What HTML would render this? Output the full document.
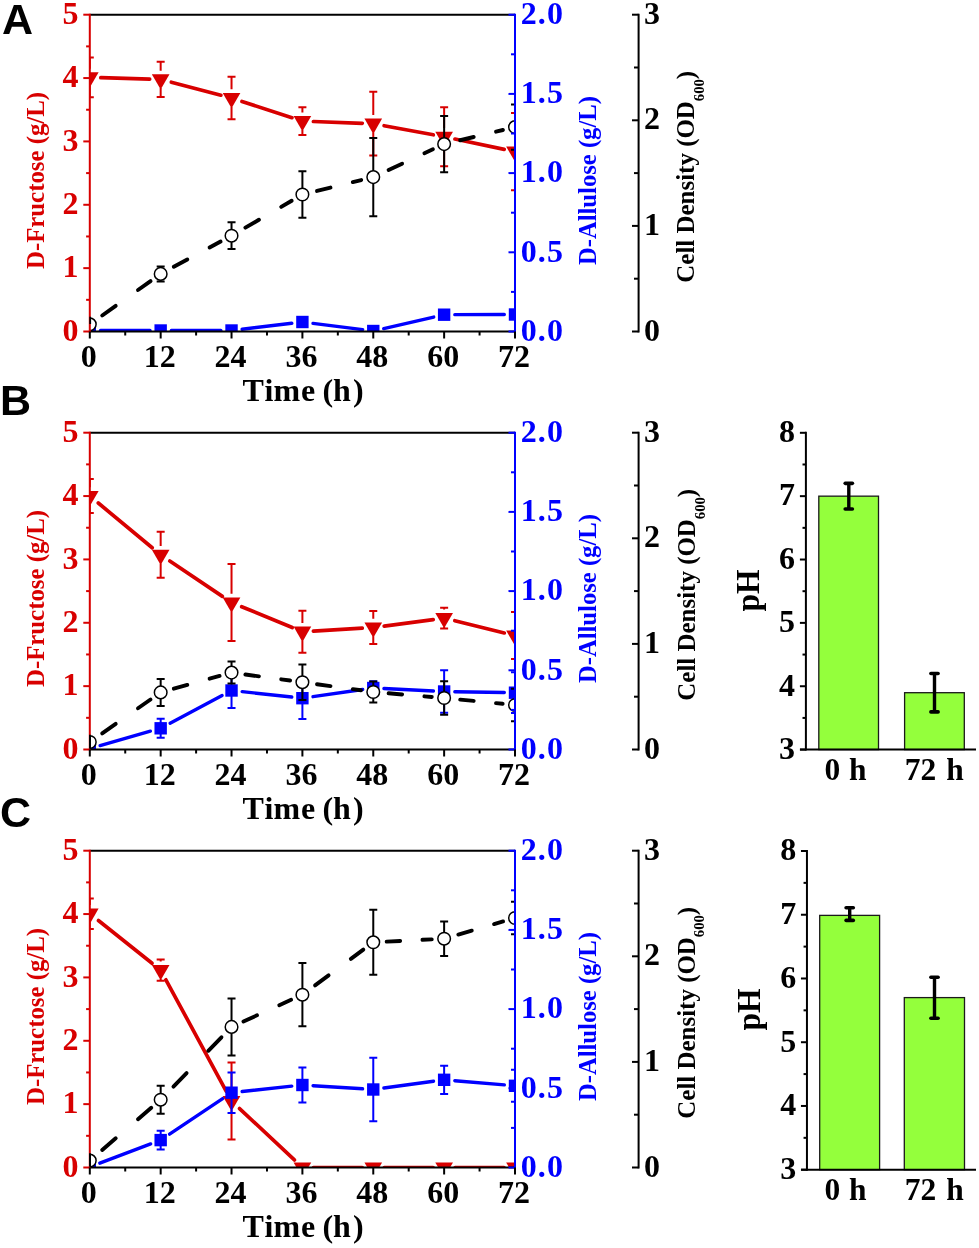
<!DOCTYPE html>
<html><head><meta charset="utf-8"><style>
html,body{margin:0;padding:0;background:#fff;width:979px;height:1248px;overflow:hidden}
svg{display:block;will-change:transform}

</style></head><body>
<svg width="979" height="1248" viewBox="0 0 979 1248">
<rect width="979" height="1248" fill="#fff"/>
<defs>
<clipPath id="c0"><rect x="89.8" y="14.7" width="425.2" height="316.8"/></clipPath>
<clipPath id="c1"><rect x="89.8" y="432.7" width="425.2" height="316.8"/></clipPath>
<clipPath id="c2"><rect x="89.8" y="850.7" width="425.2" height="316.8"/></clipPath>
</defs>
<g font-family="'Liberation Sans', sans-serif" font-weight="bold" font-size="43">
<text x="2.00" y="34.00" fill="#000000" font-size="43" text-anchor="start">A</text>
<text x="0.00" y="414.90" fill="#000000" font-size="43" text-anchor="start">B</text>
<text x="0.00" y="826.60" fill="#000000" font-size="43" text-anchor="start">C</text>
</g>
<g font-family="'Liberation Serif', serif" font-weight="bold">
<g transform="translate(0,0)">
<g clip-path="url(#c0)">
<line x1="100.80" y1="77.71" x2="149.67" y2="79.09" stroke="#d80000" stroke-width="3.7" stroke-linecap="round"/>
<line x1="171.31" y1="82.19" x2="220.89" y2="95.21" stroke="#d80000" stroke-width="3.7" stroke-linecap="round"/>
<line x1="241.99" y1="101.41" x2="291.94" y2="117.69" stroke="#d80000" stroke-width="3.7" stroke-linecap="round"/>
<line x1="313.39" y1="121.50" x2="362.27" y2="123.30" stroke="#d80000" stroke-width="3.7" stroke-linecap="round"/>
<line x1="384.08" y1="125.70" x2="433.32" y2="134.80" stroke="#d80000" stroke-width="3.7" stroke-linecap="round"/>
<line x1="454.90" y1="139.05" x2="504.23" y2="149.35" stroke="#d80000" stroke-width="3.7" stroke-linecap="round"/>
<line x1="89.80" y1="57.50" x2="89.80" y2="68.70" stroke="#d80000" stroke-width="2"/>
<line x1="89.80" y1="86.10" x2="89.80" y2="97.30" stroke="#d80000" stroke-width="2"/>
<line x1="85.80" y1="57.50" x2="93.80" y2="57.50" stroke="#d80000" stroke-width="2"/>
<line x1="85.80" y1="97.30" x2="93.80" y2="97.30" stroke="#d80000" stroke-width="2"/>
<line x1="160.67" y1="61.70" x2="160.67" y2="70.70" stroke="#d80000" stroke-width="2"/>
<line x1="160.67" y1="88.10" x2="160.67" y2="97.10" stroke="#d80000" stroke-width="2"/>
<line x1="156.67" y1="61.70" x2="164.67" y2="61.70" stroke="#d80000" stroke-width="2"/>
<line x1="156.67" y1="97.10" x2="164.67" y2="97.10" stroke="#d80000" stroke-width="2"/>
<line x1="231.53" y1="76.80" x2="231.53" y2="89.30" stroke="#d80000" stroke-width="2"/>
<line x1="231.53" y1="106.70" x2="231.53" y2="119.20" stroke="#d80000" stroke-width="2"/>
<line x1="227.53" y1="76.80" x2="235.53" y2="76.80" stroke="#d80000" stroke-width="2"/>
<line x1="227.53" y1="119.20" x2="235.53" y2="119.20" stroke="#d80000" stroke-width="2"/>
<line x1="302.40" y1="107.30" x2="302.40" y2="112.40" stroke="#d80000" stroke-width="2"/>
<line x1="302.40" y1="129.80" x2="302.40" y2="134.90" stroke="#d80000" stroke-width="2"/>
<line x1="298.40" y1="107.30" x2="306.40" y2="107.30" stroke="#d80000" stroke-width="2"/>
<line x1="298.40" y1="134.90" x2="306.40" y2="134.90" stroke="#d80000" stroke-width="2"/>
<line x1="373.27" y1="91.80" x2="373.27" y2="115.00" stroke="#d80000" stroke-width="2"/>
<line x1="373.27" y1="132.40" x2="373.27" y2="155.60" stroke="#d80000" stroke-width="2"/>
<line x1="369.27" y1="91.80" x2="377.27" y2="91.80" stroke="#d80000" stroke-width="2"/>
<line x1="369.27" y1="155.60" x2="377.27" y2="155.60" stroke="#d80000" stroke-width="2"/>
<line x1="444.13" y1="107.30" x2="444.13" y2="128.10" stroke="#d80000" stroke-width="2"/>
<line x1="444.13" y1="145.50" x2="444.13" y2="166.30" stroke="#d80000" stroke-width="2"/>
<line x1="440.13" y1="107.30" x2="448.13" y2="107.30" stroke="#d80000" stroke-width="2"/>
<line x1="440.13" y1="166.30" x2="448.13" y2="166.30" stroke="#d80000" stroke-width="2"/>
<line x1="515.00" y1="112.90" x2="515.00" y2="142.90" stroke="#d80000" stroke-width="2"/>
<line x1="515.00" y1="160.30" x2="515.00" y2="190.30" stroke="#d80000" stroke-width="2"/>
<line x1="511.00" y1="112.90" x2="519.00" y2="112.90" stroke="#d80000" stroke-width="2"/>
<line x1="511.00" y1="190.30" x2="519.00" y2="190.30" stroke="#d80000" stroke-width="2"/>
<polygon points="80.97,72.30 98.63,72.30 89.80,87.60" fill="#d80000"/>
<polygon points="151.83,74.30 169.50,74.30 160.67,89.60" fill="#d80000"/>
<polygon points="222.70,92.90 240.37,92.90 231.53,108.20" fill="#d80000"/>
<polygon points="293.57,116.00 311.23,116.00 302.40,131.30" fill="#d80000"/>
<polygon points="364.43,118.60 382.10,118.60 373.27,133.90" fill="#d80000"/>
<polygon points="435.30,131.70 452.97,131.70 444.13,147.00" fill="#d80000"/>
<polygon points="506.17,146.50 523.83,146.50 515.00,161.80" fill="#d80000"/>
<line x1="100.50" y1="330.50" x2="149.97" y2="330.50" stroke="#0000ff" stroke-width="3.4" stroke-linecap="round"/>
<line x1="171.37" y1="330.50" x2="220.83" y2="330.50" stroke="#0000ff" stroke-width="3.4" stroke-linecap="round"/>
<line x1="242.16" y1="329.23" x2="291.78" y2="323.27" stroke="#0000ff" stroke-width="3.4" stroke-linecap="round"/>
<line x1="313.01" y1="323.35" x2="362.65" y2="329.65" stroke="#0000ff" stroke-width="3.4" stroke-linecap="round"/>
<line x1="383.69" y1="328.60" x2="433.71" y2="317.10" stroke="#0000ff" stroke-width="3.4" stroke-linecap="round"/>
<line x1="454.83" y1="314.67" x2="504.30" y2="314.53" stroke="#0000ff" stroke-width="3.4" stroke-linecap="round"/>
<rect x="83.60" y="324.30" width="12.4" height="12.4" fill="#0000ff"/>
<rect x="154.47" y="324.30" width="12.4" height="12.4" fill="#0000ff"/>
<rect x="225.33" y="324.30" width="12.4" height="12.4" fill="#0000ff"/>
<rect x="296.20" y="315.80" width="12.4" height="12.4" fill="#0000ff"/>
<rect x="367.07" y="324.80" width="12.4" height="12.4" fill="#0000ff"/>
<rect x="437.93" y="308.50" width="12.4" height="12.4" fill="#0000ff"/>
<rect x="508.80" y="308.30" width="12.4" height="12.4" fill="#0000ff"/>
<line x1="102.20" y1="315.48" x2="115.70" y2="305.88" stroke="#000000" stroke-width="3.9" stroke-linecap="round"/>
<line x1="138.00" y1="290.02" x2="150.56" y2="281.09" stroke="#000000" stroke-width="3.9" stroke-linecap="round"/>
<line x1="173.80" y1="266.82" x2="187.30" y2="259.54" stroke="#000000" stroke-width="3.9" stroke-linecap="round"/>
<line x1="209.60" y1="247.52" x2="220.62" y2="241.58" stroke="#000000" stroke-width="3.9" stroke-linecap="round"/>
<line x1="245.40" y1="227.64" x2="258.90" y2="219.79" stroke="#000000" stroke-width="3.9" stroke-linecap="round"/>
<line x1="281.20" y1="206.83" x2="291.68" y2="200.73" stroke="#000000" stroke-width="3.9" stroke-linecap="round"/>
<line x1="317.00" y1="190.92" x2="330.50" y2="187.60" stroke="#000000" stroke-width="3.9" stroke-linecap="round"/>
<line x1="352.80" y1="182.13" x2="361.22" y2="180.06" stroke="#000000" stroke-width="3.9" stroke-linecap="round"/>
<line x1="388.60" y1="169.96" x2="402.10" y2="163.67" stroke="#000000" stroke-width="3.9" stroke-linecap="round"/>
<line x1="424.40" y1="153.29" x2="432.89" y2="149.33" stroke="#000000" stroke-width="3.9" stroke-linecap="round"/>
<line x1="460.20" y1="140.25" x2="473.70" y2="137.01" stroke="#000000" stroke-width="3.9" stroke-linecap="round"/>
<line x1="496.00" y1="131.66" x2="502.94" y2="129.99" stroke="#000000" stroke-width="3.9" stroke-linecap="round"/>
<line x1="160.67" y1="266.40" x2="160.67" y2="281.40" stroke="#000000" stroke-width="2"/>
<line x1="156.67" y1="266.40" x2="164.67" y2="266.40" stroke="#000000" stroke-width="2"/>
<line x1="156.67" y1="281.40" x2="164.67" y2="281.40" stroke="#000000" stroke-width="2"/>
<line x1="231.53" y1="222.30" x2="231.53" y2="249.10" stroke="#000000" stroke-width="2"/>
<line x1="227.53" y1="222.30" x2="235.53" y2="222.30" stroke="#000000" stroke-width="2"/>
<line x1="227.53" y1="249.10" x2="235.53" y2="249.10" stroke="#000000" stroke-width="2"/>
<line x1="302.40" y1="171.20" x2="302.40" y2="217.80" stroke="#000000" stroke-width="2"/>
<line x1="298.40" y1="171.20" x2="306.40" y2="171.20" stroke="#000000" stroke-width="2"/>
<line x1="298.40" y1="217.80" x2="306.40" y2="217.80" stroke="#000000" stroke-width="2"/>
<line x1="373.27" y1="138.00" x2="373.27" y2="216.20" stroke="#000000" stroke-width="2"/>
<line x1="369.27" y1="138.00" x2="377.27" y2="138.00" stroke="#000000" stroke-width="2"/>
<line x1="369.27" y1="216.20" x2="377.27" y2="216.20" stroke="#000000" stroke-width="2"/>
<line x1="444.13" y1="115.90" x2="444.13" y2="172.30" stroke="#000000" stroke-width="2"/>
<line x1="440.13" y1="115.90" x2="448.13" y2="115.90" stroke="#000000" stroke-width="2"/>
<line x1="440.13" y1="172.30" x2="448.13" y2="172.30" stroke="#000000" stroke-width="2"/>
<line x1="515.00" y1="104.40" x2="515.00" y2="149.80" stroke="#000000" stroke-width="2"/>
<line x1="511.00" y1="104.40" x2="519.00" y2="104.40" stroke="#000000" stroke-width="2"/>
<line x1="511.00" y1="149.80" x2="519.00" y2="149.80" stroke="#000000" stroke-width="2"/>
<circle cx="89.80" cy="324.30" r="6.3" fill="#fff" stroke="#000" stroke-width="1.5"/>
<circle cx="160.67" cy="273.90" r="6.3" fill="#fff" stroke="#000" stroke-width="1.5"/>
<circle cx="231.53" cy="235.70" r="6.3" fill="#fff" stroke="#000" stroke-width="1.5"/>
<circle cx="302.40" cy="194.50" r="6.3" fill="#fff" stroke="#000" stroke-width="1.5"/>
<circle cx="373.27" cy="177.10" r="6.3" fill="#fff" stroke="#000" stroke-width="1.5"/>
<circle cx="444.13" cy="144.10" r="6.3" fill="#fff" stroke="#000" stroke-width="1.5"/>
<circle cx="515.00" cy="127.10" r="6.3" fill="#fff" stroke="#000" stroke-width="1.5"/>
</g>
<line x1="89.80" y1="14.70" x2="515.00" y2="14.70" stroke="#000000" stroke-width="2"/>
<line x1="89.80" y1="331.50" x2="515.00" y2="331.50" stroke="#000000" stroke-width="2"/>
<line x1="89.80" y1="13.70" x2="89.80" y2="332.50" stroke="#d80000" stroke-width="2"/>
<line x1="515.00" y1="13.70" x2="515.00" y2="332.50" stroke="#0000ff" stroke-width="2"/>
<line x1="90.20" y1="316.70" x2="90.20" y2="324.00" stroke="#000000" stroke-width="1.8"/>
<line x1="83.30" y1="331.50" x2="89.80" y2="331.50" stroke="#d80000" stroke-width="2"/>
<text x="78.40" y="340.80" fill="#d80000" font-size="32" text-anchor="end">0</text>
<line x1="86.10" y1="299.82" x2="89.80" y2="299.82" stroke="#d80000" stroke-width="2"/>
<line x1="83.30" y1="268.14" x2="89.80" y2="268.14" stroke="#d80000" stroke-width="2"/>
<text x="78.40" y="277.44" fill="#d80000" font-size="32" text-anchor="end">1</text>
<line x1="86.10" y1="236.46" x2="89.80" y2="236.46" stroke="#d80000" stroke-width="2"/>
<line x1="83.30" y1="204.78" x2="89.80" y2="204.78" stroke="#d80000" stroke-width="2"/>
<text x="78.40" y="214.08" fill="#d80000" font-size="32" text-anchor="end">2</text>
<line x1="86.10" y1="173.10" x2="89.80" y2="173.10" stroke="#d80000" stroke-width="2"/>
<line x1="83.30" y1="141.42" x2="89.80" y2="141.42" stroke="#d80000" stroke-width="2"/>
<text x="78.40" y="150.72" fill="#d80000" font-size="32" text-anchor="end">3</text>
<line x1="86.10" y1="109.74" x2="89.80" y2="109.74" stroke="#d80000" stroke-width="2"/>
<line x1="83.30" y1="78.06" x2="89.80" y2="78.06" stroke="#d80000" stroke-width="2"/>
<text x="78.40" y="87.36" fill="#d80000" font-size="32" text-anchor="end">4</text>
<line x1="86.10" y1="46.38" x2="89.80" y2="46.38" stroke="#d80000" stroke-width="2"/>
<line x1="83.30" y1="14.70" x2="89.80" y2="14.70" stroke="#d80000" stroke-width="2"/>
<text x="78.40" y="24.00" fill="#d80000" font-size="32" text-anchor="end">5</text>
<line x1="508.50" y1="331.50" x2="515.00" y2="331.50" stroke="#0000ff" stroke-width="2"/>
<text x="520.70" y="340.80" fill="#0000ff" font-size="32" text-anchor="start" letter-spacing="1.1">0.0</text>
<line x1="511.00" y1="291.90" x2="515.00" y2="291.90" stroke="#0000ff" stroke-width="2"/>
<line x1="508.50" y1="252.30" x2="515.00" y2="252.30" stroke="#0000ff" stroke-width="2"/>
<text x="520.70" y="261.60" fill="#0000ff" font-size="32" text-anchor="start" letter-spacing="1.1">0.5</text>
<line x1="511.00" y1="212.70" x2="515.00" y2="212.70" stroke="#0000ff" stroke-width="2"/>
<line x1="508.50" y1="173.10" x2="515.00" y2="173.10" stroke="#0000ff" stroke-width="2"/>
<text x="520.70" y="182.40" fill="#0000ff" font-size="32" text-anchor="start" letter-spacing="1.1">1.0</text>
<line x1="511.00" y1="133.50" x2="515.00" y2="133.50" stroke="#0000ff" stroke-width="2"/>
<line x1="508.50" y1="93.90" x2="515.00" y2="93.90" stroke="#0000ff" stroke-width="2"/>
<text x="520.70" y="103.20" fill="#0000ff" font-size="32" text-anchor="start" letter-spacing="1.1">1.5</text>
<line x1="511.00" y1="54.30" x2="515.00" y2="54.30" stroke="#0000ff" stroke-width="2"/>
<line x1="508.50" y1="14.70" x2="515.00" y2="14.70" stroke="#0000ff" stroke-width="2"/>
<text x="520.70" y="24.00" fill="#0000ff" font-size="32" text-anchor="start" letter-spacing="1.1">2.0</text>
<line x1="89.80" y1="331.50" x2="89.80" y2="338.50" stroke="#000000" stroke-width="2"/>
<text x="88.80" y="366.70" fill="#000000" font-size="32" text-anchor="middle">0</text>
<line x1="125.23" y1="331.50" x2="125.23" y2="335.50" stroke="#000000" stroke-width="2"/>
<line x1="160.67" y1="331.50" x2="160.67" y2="338.50" stroke="#000000" stroke-width="2"/>
<text x="159.67" y="366.70" fill="#000000" font-size="32" text-anchor="middle">12</text>
<line x1="196.10" y1="331.50" x2="196.10" y2="335.50" stroke="#000000" stroke-width="2"/>
<line x1="231.53" y1="331.50" x2="231.53" y2="338.50" stroke="#000000" stroke-width="2"/>
<text x="230.53" y="366.70" fill="#000000" font-size="32" text-anchor="middle">24</text>
<line x1="266.97" y1="331.50" x2="266.97" y2="335.50" stroke="#000000" stroke-width="2"/>
<line x1="302.40" y1="331.50" x2="302.40" y2="338.50" stroke="#000000" stroke-width="2"/>
<text x="301.40" y="366.70" fill="#000000" font-size="32" text-anchor="middle">36</text>
<line x1="337.83" y1="331.50" x2="337.83" y2="335.50" stroke="#000000" stroke-width="2"/>
<line x1="373.27" y1="331.50" x2="373.27" y2="338.50" stroke="#000000" stroke-width="2"/>
<text x="372.27" y="366.70" fill="#000000" font-size="32" text-anchor="middle">48</text>
<line x1="408.70" y1="331.50" x2="408.70" y2="335.50" stroke="#000000" stroke-width="2"/>
<line x1="444.13" y1="331.50" x2="444.13" y2="338.50" stroke="#000000" stroke-width="2"/>
<text x="443.13" y="366.70" fill="#000000" font-size="32" text-anchor="middle">60</text>
<line x1="479.57" y1="331.50" x2="479.57" y2="335.50" stroke="#000000" stroke-width="2"/>
<line x1="515.00" y1="331.50" x2="515.00" y2="338.50" stroke="#000000" stroke-width="2"/>
<text x="514.00" y="366.70" fill="#000000" font-size="32" text-anchor="middle">72</text>
<text x="242.5 264.5 273.5 300.9 315.1 322.6 332.9 352.9" y="401.10" fill="#000" font-size="32">Time (h)</text>
<text transform="translate(44,180.5) rotate(-90)" fill="#d80000" font-size="25" text-anchor="middle" textLength="177" lengthAdjust="spacingAndGlyphs">D-Fructose (g/L)</text>
<text transform="translate(595.5,180.6) rotate(-90)" fill="#0000ff" font-size="25" text-anchor="middle" textLength="169" lengthAdjust="spacingAndGlyphs">D-Allulose (g/L)</text>
<line x1="638.60" y1="13.70" x2="638.60" y2="332.50" stroke="#000000" stroke-width="2"/>
<line x1="632.00" y1="331.50" x2="638.60" y2="331.50" stroke="#000000" stroke-width="2"/>
<text x="643.90" y="340.50" fill="#000000" font-size="32" text-anchor="start">0</text>
<line x1="634.00" y1="278.70" x2="638.60" y2="278.70" stroke="#000000" stroke-width="2"/>
<line x1="632.00" y1="225.90" x2="638.60" y2="225.90" stroke="#000000" stroke-width="2"/>
<text x="643.90" y="234.90" fill="#000000" font-size="32" text-anchor="start">1</text>
<line x1="634.00" y1="173.10" x2="638.60" y2="173.10" stroke="#000000" stroke-width="2"/>
<line x1="632.00" y1="120.30" x2="638.60" y2="120.30" stroke="#000000" stroke-width="2"/>
<text x="643.90" y="129.30" fill="#000000" font-size="32" text-anchor="start">2</text>
<line x1="634.00" y1="67.50" x2="638.60" y2="67.50" stroke="#000000" stroke-width="2"/>
<line x1="632.00" y1="14.70" x2="638.60" y2="14.70" stroke="#000000" stroke-width="2"/>
<text x="643.90" y="23.70" fill="#000000" font-size="32" text-anchor="start">3</text>
<text transform="translate(694.10,176.75) rotate(-90) scale(0.979,1)" fill="#000000" font-size="25.5" text-anchor="middle">Cell Density (OD<tspan font-size="15" dy="9.5">600</tspan><tspan dy="-9.5">)</tspan></text>
</g>
<g transform="translate(0,418)">
<g clip-path="url(#c0)">
<line x1="98.27" y1="85.02" x2="152.20" y2="129.78" stroke="#d80000" stroke-width="3.7" stroke-linecap="round"/>
<line x1="169.79" y1="142.94" x2="222.41" y2="178.36" stroke="#d80000" stroke-width="3.7" stroke-linecap="round"/>
<line x1="241.70" y1="188.69" x2="292.23" y2="209.51" stroke="#d80000" stroke-width="3.7" stroke-linecap="round"/>
<line x1="313.38" y1="213.05" x2="362.29" y2="210.15" stroke="#d80000" stroke-width="3.7" stroke-linecap="round"/>
<line x1="384.17" y1="208.05" x2="433.23" y2="201.55" stroke="#d80000" stroke-width="3.7" stroke-linecap="round"/>
<line x1="454.81" y1="202.74" x2="504.32" y2="214.96" stroke="#d80000" stroke-width="3.7" stroke-linecap="round"/>
<line x1="89.80" y1="61.00" x2="89.80" y2="69.30" stroke="#d80000" stroke-width="2"/>
<line x1="89.80" y1="86.70" x2="89.80" y2="95.00" stroke="#d80000" stroke-width="2"/>
<line x1="85.80" y1="61.00" x2="93.80" y2="61.00" stroke="#d80000" stroke-width="2"/>
<line x1="85.80" y1="95.00" x2="93.80" y2="95.00" stroke="#d80000" stroke-width="2"/>
<line x1="160.67" y1="113.80" x2="160.67" y2="128.10" stroke="#d80000" stroke-width="2"/>
<line x1="160.67" y1="145.50" x2="160.67" y2="159.80" stroke="#d80000" stroke-width="2"/>
<line x1="156.67" y1="113.80" x2="164.67" y2="113.80" stroke="#d80000" stroke-width="2"/>
<line x1="156.67" y1="159.80" x2="164.67" y2="159.80" stroke="#d80000" stroke-width="2"/>
<line x1="231.53" y1="145.90" x2="231.53" y2="175.80" stroke="#d80000" stroke-width="2"/>
<line x1="231.53" y1="193.20" x2="231.53" y2="223.10" stroke="#d80000" stroke-width="2"/>
<line x1="227.53" y1="145.90" x2="235.53" y2="145.90" stroke="#d80000" stroke-width="2"/>
<line x1="227.53" y1="223.10" x2="235.53" y2="223.10" stroke="#d80000" stroke-width="2"/>
<line x1="302.40" y1="192.70" x2="302.40" y2="205.00" stroke="#d80000" stroke-width="2"/>
<line x1="302.40" y1="222.40" x2="302.40" y2="234.70" stroke="#d80000" stroke-width="2"/>
<line x1="298.40" y1="192.70" x2="306.40" y2="192.70" stroke="#d80000" stroke-width="2"/>
<line x1="298.40" y1="234.70" x2="306.40" y2="234.70" stroke="#d80000" stroke-width="2"/>
<line x1="373.27" y1="193.10" x2="373.27" y2="200.80" stroke="#d80000" stroke-width="2"/>
<line x1="373.27" y1="218.20" x2="373.27" y2="225.90" stroke="#d80000" stroke-width="2"/>
<line x1="369.27" y1="193.10" x2="377.27" y2="193.10" stroke="#d80000" stroke-width="2"/>
<line x1="369.27" y1="225.90" x2="377.27" y2="225.90" stroke="#d80000" stroke-width="2"/>
<line x1="444.13" y1="189.80" x2="444.13" y2="191.40" stroke="#d80000" stroke-width="2"/>
<line x1="444.13" y1="208.80" x2="444.13" y2="210.40" stroke="#d80000" stroke-width="2"/>
<line x1="440.13" y1="189.80" x2="448.13" y2="189.80" stroke="#d80000" stroke-width="2"/>
<line x1="440.13" y1="210.40" x2="448.13" y2="210.40" stroke="#d80000" stroke-width="2"/>
<line x1="515.00" y1="194.10" x2="515.00" y2="208.90" stroke="#d80000" stroke-width="2"/>
<line x1="515.00" y1="226.30" x2="515.00" y2="241.10" stroke="#d80000" stroke-width="2"/>
<line x1="511.00" y1="194.10" x2="519.00" y2="194.10" stroke="#d80000" stroke-width="2"/>
<line x1="511.00" y1="241.10" x2="519.00" y2="241.10" stroke="#d80000" stroke-width="2"/>
<polygon points="80.97,72.90 98.63,72.90 89.80,88.20" fill="#d80000"/>
<polygon points="151.83,131.70 169.50,131.70 160.67,147.00" fill="#d80000"/>
<polygon points="222.70,179.40 240.37,179.40 231.53,194.70" fill="#d80000"/>
<polygon points="293.57,208.60 311.23,208.60 302.40,223.90" fill="#d80000"/>
<polygon points="364.43,204.40 382.10,204.40 373.27,219.70" fill="#d80000"/>
<polygon points="435.30,195.00 452.97,195.00 444.13,210.30" fill="#d80000"/>
<polygon points="506.17,212.50 523.83,212.50 515.00,227.80" fill="#d80000"/>
<line x1="100.09" y1="327.57" x2="150.38" y2="313.23" stroke="#0000ff" stroke-width="3.4" stroke-linecap="round"/>
<line x1="170.11" y1="305.26" x2="222.09" y2="277.54" stroke="#0000ff" stroke-width="3.4" stroke-linecap="round"/>
<line x1="242.17" y1="273.66" x2="291.76" y2="279.04" stroke="#0000ff" stroke-width="3.4" stroke-linecap="round"/>
<line x1="312.99" y1="278.68" x2="362.68" y2="271.52" stroke="#0000ff" stroke-width="3.4" stroke-linecap="round"/>
<line x1="383.95" y1="270.53" x2="433.45" y2="272.97" stroke="#0000ff" stroke-width="3.4" stroke-linecap="round"/>
<line x1="454.83" y1="273.68" x2="504.30" y2="274.52" stroke="#0000ff" stroke-width="3.4" stroke-linecap="round"/>
<line x1="160.67" y1="300.80" x2="160.67" y2="319.80" stroke="#0000ff" stroke-width="2"/>
<line x1="156.67" y1="300.80" x2="164.67" y2="300.80" stroke="#0000ff" stroke-width="2"/>
<line x1="156.67" y1="319.80" x2="164.67" y2="319.80" stroke="#0000ff" stroke-width="2"/>
<line x1="231.53" y1="255.10" x2="231.53" y2="289.90" stroke="#0000ff" stroke-width="2"/>
<line x1="227.53" y1="255.10" x2="235.53" y2="255.10" stroke="#0000ff" stroke-width="2"/>
<line x1="227.53" y1="289.90" x2="235.53" y2="289.90" stroke="#0000ff" stroke-width="2"/>
<line x1="302.40" y1="259.40" x2="302.40" y2="301.00" stroke="#0000ff" stroke-width="2"/>
<line x1="298.40" y1="259.40" x2="306.40" y2="259.40" stroke="#0000ff" stroke-width="2"/>
<line x1="298.40" y1="301.00" x2="306.40" y2="301.00" stroke="#0000ff" stroke-width="2"/>
<line x1="373.27" y1="263.20" x2="373.27" y2="276.80" stroke="#0000ff" stroke-width="2"/>
<line x1="369.27" y1="263.20" x2="377.27" y2="263.20" stroke="#0000ff" stroke-width="2"/>
<line x1="369.27" y1="276.80" x2="377.27" y2="276.80" stroke="#0000ff" stroke-width="2"/>
<line x1="444.13" y1="252.20" x2="444.13" y2="294.80" stroke="#0000ff" stroke-width="2"/>
<line x1="440.13" y1="252.20" x2="448.13" y2="252.20" stroke="#0000ff" stroke-width="2"/>
<line x1="440.13" y1="294.80" x2="448.13" y2="294.80" stroke="#0000ff" stroke-width="2"/>
<line x1="515.00" y1="254.30" x2="515.00" y2="295.10" stroke="#0000ff" stroke-width="2"/>
<line x1="511.00" y1="254.30" x2="519.00" y2="254.30" stroke="#0000ff" stroke-width="2"/>
<line x1="511.00" y1="295.10" x2="519.00" y2="295.10" stroke="#0000ff" stroke-width="2"/>
<rect x="83.60" y="324.30" width="12.4" height="12.4" fill="#0000ff"/>
<rect x="154.47" y="304.10" width="12.4" height="12.4" fill="#0000ff"/>
<rect x="225.33" y="266.30" width="12.4" height="12.4" fill="#0000ff"/>
<rect x="296.20" y="274.00" width="12.4" height="12.4" fill="#0000ff"/>
<rect x="367.07" y="263.80" width="12.4" height="12.4" fill="#0000ff"/>
<rect x="437.93" y="267.30" width="12.4" height="12.4" fill="#0000ff"/>
<rect x="508.80" y="268.50" width="12.4" height="12.4" fill="#0000ff"/>
<line x1="102.20" y1="315.32" x2="115.70" y2="305.87" stroke="#000000" stroke-width="3.9" stroke-linecap="round"/>
<line x1="138.00" y1="290.26" x2="150.51" y2="281.51" stroke="#000000" stroke-width="3.9" stroke-linecap="round"/>
<line x1="173.80" y1="270.73" x2="187.30" y2="266.96" stroke="#000000" stroke-width="3.9" stroke-linecap="round"/>
<line x1="209.60" y1="260.73" x2="219.59" y2="257.94" stroke="#000000" stroke-width="3.9" stroke-linecap="round"/>
<line x1="245.40" y1="256.48" x2="258.90" y2="258.31" stroke="#000000" stroke-width="3.9" stroke-linecap="round"/>
<line x1="281.20" y1="261.33" x2="290.11" y2="262.54" stroke="#000000" stroke-width="3.9" stroke-linecap="round"/>
<line x1="317.00" y1="266.22" x2="330.50" y2="268.09" stroke="#000000" stroke-width="3.9" stroke-linecap="round"/>
<line x1="352.80" y1="271.17" x2="360.98" y2="272.30" stroke="#000000" stroke-width="3.9" stroke-linecap="round"/>
<line x1="388.60" y1="275.30" x2="402.10" y2="276.44" stroke="#000000" stroke-width="3.9" stroke-linecap="round"/>
<line x1="424.40" y1="278.33" x2="431.78" y2="278.95" stroke="#000000" stroke-width="3.9" stroke-linecap="round"/>
<line x1="460.20" y1="281.59" x2="473.70" y2="282.92" stroke="#000000" stroke-width="3.9" stroke-linecap="round"/>
<line x1="496.00" y1="285.12" x2="502.66" y2="285.78" stroke="#000000" stroke-width="3.9" stroke-linecap="round"/>
<line x1="160.67" y1="260.90" x2="160.67" y2="287.90" stroke="#000000" stroke-width="2"/>
<line x1="156.67" y1="260.90" x2="164.67" y2="260.90" stroke="#000000" stroke-width="2"/>
<line x1="156.67" y1="287.90" x2="164.67" y2="287.90" stroke="#000000" stroke-width="2"/>
<line x1="231.53" y1="243.60" x2="231.53" y2="265.60" stroke="#000000" stroke-width="2"/>
<line x1="227.53" y1="243.60" x2="235.53" y2="243.60" stroke="#000000" stroke-width="2"/>
<line x1="227.53" y1="265.60" x2="235.53" y2="265.60" stroke="#000000" stroke-width="2"/>
<line x1="302.40" y1="246.50" x2="302.40" y2="281.90" stroke="#000000" stroke-width="2"/>
<line x1="298.40" y1="246.50" x2="306.40" y2="246.50" stroke="#000000" stroke-width="2"/>
<line x1="298.40" y1="281.90" x2="306.40" y2="281.90" stroke="#000000" stroke-width="2"/>
<line x1="373.27" y1="263.50" x2="373.27" y2="284.50" stroke="#000000" stroke-width="2"/>
<line x1="369.27" y1="263.50" x2="377.27" y2="263.50" stroke="#000000" stroke-width="2"/>
<line x1="369.27" y1="284.50" x2="377.27" y2="284.50" stroke="#000000" stroke-width="2"/>
<line x1="444.13" y1="263.30" x2="444.13" y2="296.70" stroke="#000000" stroke-width="2"/>
<line x1="440.13" y1="263.30" x2="448.13" y2="263.30" stroke="#000000" stroke-width="2"/>
<line x1="440.13" y1="296.70" x2="448.13" y2="296.70" stroke="#000000" stroke-width="2"/>
<line x1="515.00" y1="270.80" x2="515.00" y2="303.20" stroke="#000000" stroke-width="2"/>
<line x1="511.00" y1="270.80" x2="519.00" y2="270.80" stroke="#000000" stroke-width="2"/>
<line x1="511.00" y1="303.20" x2="519.00" y2="303.20" stroke="#000000" stroke-width="2"/>
<circle cx="89.80" cy="324.00" r="6.3" fill="#fff" stroke="#000" stroke-width="1.5"/>
<circle cx="160.67" cy="274.40" r="6.3" fill="#fff" stroke="#000" stroke-width="1.5"/>
<circle cx="231.53" cy="254.60" r="6.3" fill="#fff" stroke="#000" stroke-width="1.5"/>
<circle cx="302.40" cy="264.20" r="6.3" fill="#fff" stroke="#000" stroke-width="1.5"/>
<circle cx="373.27" cy="274.00" r="6.3" fill="#fff" stroke="#000" stroke-width="1.5"/>
<circle cx="444.13" cy="280.00" r="6.3" fill="#fff" stroke="#000" stroke-width="1.5"/>
<circle cx="515.00" cy="287.00" r="6.3" fill="#fff" stroke="#000" stroke-width="1.5"/>
</g>
<line x1="89.80" y1="14.70" x2="515.00" y2="14.70" stroke="#000000" stroke-width="2"/>
<line x1="89.80" y1="331.50" x2="515.00" y2="331.50" stroke="#000000" stroke-width="2"/>
<line x1="89.80" y1="13.70" x2="89.80" y2="332.50" stroke="#d80000" stroke-width="2"/>
<line x1="515.00" y1="13.70" x2="515.00" y2="332.50" stroke="#0000ff" stroke-width="2"/>
<line x1="90.00" y1="316.70" x2="90.00" y2="331.50" stroke="#000000" stroke-width="2"/>
<line x1="83.30" y1="331.50" x2="89.80" y2="331.50" stroke="#d80000" stroke-width="2"/>
<text x="78.40" y="340.80" fill="#d80000" font-size="32" text-anchor="end">0</text>
<line x1="86.10" y1="299.82" x2="89.80" y2="299.82" stroke="#d80000" stroke-width="2"/>
<line x1="83.30" y1="268.14" x2="89.80" y2="268.14" stroke="#d80000" stroke-width="2"/>
<text x="78.40" y="277.44" fill="#d80000" font-size="32" text-anchor="end">1</text>
<line x1="86.10" y1="236.46" x2="89.80" y2="236.46" stroke="#d80000" stroke-width="2"/>
<line x1="83.30" y1="204.78" x2="89.80" y2="204.78" stroke="#d80000" stroke-width="2"/>
<text x="78.40" y="214.08" fill="#d80000" font-size="32" text-anchor="end">2</text>
<line x1="86.10" y1="173.10" x2="89.80" y2="173.10" stroke="#d80000" stroke-width="2"/>
<line x1="83.30" y1="141.42" x2="89.80" y2="141.42" stroke="#d80000" stroke-width="2"/>
<text x="78.40" y="150.72" fill="#d80000" font-size="32" text-anchor="end">3</text>
<line x1="86.10" y1="109.74" x2="89.80" y2="109.74" stroke="#d80000" stroke-width="2"/>
<line x1="83.30" y1="78.06" x2="89.80" y2="78.06" stroke="#d80000" stroke-width="2"/>
<text x="78.40" y="87.36" fill="#d80000" font-size="32" text-anchor="end">4</text>
<line x1="86.10" y1="46.38" x2="89.80" y2="46.38" stroke="#d80000" stroke-width="2"/>
<line x1="83.30" y1="14.70" x2="89.80" y2="14.70" stroke="#d80000" stroke-width="2"/>
<text x="78.40" y="24.00" fill="#d80000" font-size="32" text-anchor="end">5</text>
<line x1="508.50" y1="331.50" x2="515.00" y2="331.50" stroke="#0000ff" stroke-width="2"/>
<text x="520.70" y="340.80" fill="#0000ff" font-size="32" text-anchor="start" letter-spacing="1.1">0.0</text>
<line x1="511.00" y1="291.90" x2="515.00" y2="291.90" stroke="#0000ff" stroke-width="2"/>
<line x1="508.50" y1="252.30" x2="515.00" y2="252.30" stroke="#0000ff" stroke-width="2"/>
<text x="520.70" y="261.60" fill="#0000ff" font-size="32" text-anchor="start" letter-spacing="1.1">0.5</text>
<line x1="511.00" y1="212.70" x2="515.00" y2="212.70" stroke="#0000ff" stroke-width="2"/>
<line x1="508.50" y1="173.10" x2="515.00" y2="173.10" stroke="#0000ff" stroke-width="2"/>
<text x="520.70" y="182.40" fill="#0000ff" font-size="32" text-anchor="start" letter-spacing="1.1">1.0</text>
<line x1="511.00" y1="133.50" x2="515.00" y2="133.50" stroke="#0000ff" stroke-width="2"/>
<line x1="508.50" y1="93.90" x2="515.00" y2="93.90" stroke="#0000ff" stroke-width="2"/>
<text x="520.70" y="103.20" fill="#0000ff" font-size="32" text-anchor="start" letter-spacing="1.1">1.5</text>
<line x1="511.00" y1="54.30" x2="515.00" y2="54.30" stroke="#0000ff" stroke-width="2"/>
<line x1="508.50" y1="14.70" x2="515.00" y2="14.70" stroke="#0000ff" stroke-width="2"/>
<text x="520.70" y="24.00" fill="#0000ff" font-size="32" text-anchor="start" letter-spacing="1.1">2.0</text>
<line x1="89.80" y1="331.50" x2="89.80" y2="338.50" stroke="#000000" stroke-width="2"/>
<text x="88.80" y="366.70" fill="#000000" font-size="32" text-anchor="middle">0</text>
<line x1="125.23" y1="331.50" x2="125.23" y2="335.50" stroke="#000000" stroke-width="2"/>
<line x1="160.67" y1="331.50" x2="160.67" y2="338.50" stroke="#000000" stroke-width="2"/>
<text x="159.67" y="366.70" fill="#000000" font-size="32" text-anchor="middle">12</text>
<line x1="196.10" y1="331.50" x2="196.10" y2="335.50" stroke="#000000" stroke-width="2"/>
<line x1="231.53" y1="331.50" x2="231.53" y2="338.50" stroke="#000000" stroke-width="2"/>
<text x="230.53" y="366.70" fill="#000000" font-size="32" text-anchor="middle">24</text>
<line x1="266.97" y1="331.50" x2="266.97" y2="335.50" stroke="#000000" stroke-width="2"/>
<line x1="302.40" y1="331.50" x2="302.40" y2="338.50" stroke="#000000" stroke-width="2"/>
<text x="301.40" y="366.70" fill="#000000" font-size="32" text-anchor="middle">36</text>
<line x1="337.83" y1="331.50" x2="337.83" y2="335.50" stroke="#000000" stroke-width="2"/>
<line x1="373.27" y1="331.50" x2="373.27" y2="338.50" stroke="#000000" stroke-width="2"/>
<text x="372.27" y="366.70" fill="#000000" font-size="32" text-anchor="middle">48</text>
<line x1="408.70" y1="331.50" x2="408.70" y2="335.50" stroke="#000000" stroke-width="2"/>
<line x1="444.13" y1="331.50" x2="444.13" y2="338.50" stroke="#000000" stroke-width="2"/>
<text x="443.13" y="366.70" fill="#000000" font-size="32" text-anchor="middle">60</text>
<line x1="479.57" y1="331.50" x2="479.57" y2="335.50" stroke="#000000" stroke-width="2"/>
<line x1="515.00" y1="331.50" x2="515.00" y2="338.50" stroke="#000000" stroke-width="2"/>
<text x="514.00" y="366.70" fill="#000000" font-size="32" text-anchor="middle">72</text>
<text x="242.5 264.5 273.5 300.9 315.1 322.6 332.9 352.9" y="401.10" fill="#000" font-size="32">Time (h)</text>
<text transform="translate(44,180.5) rotate(-90)" fill="#d80000" font-size="25" text-anchor="middle" textLength="177" lengthAdjust="spacingAndGlyphs">D-Fructose (g/L)</text>
<text transform="translate(595.5,180.6) rotate(-90)" fill="#0000ff" font-size="25" text-anchor="middle" textLength="169" lengthAdjust="spacingAndGlyphs">D-Allulose (g/L)</text>
<line x1="638.60" y1="13.70" x2="638.60" y2="332.50" stroke="#000000" stroke-width="2"/>
<line x1="632.00" y1="331.50" x2="638.60" y2="331.50" stroke="#000000" stroke-width="2"/>
<text x="643.90" y="340.50" fill="#000000" font-size="32" text-anchor="start">0</text>
<line x1="634.00" y1="278.70" x2="638.60" y2="278.70" stroke="#000000" stroke-width="2"/>
<line x1="632.00" y1="225.90" x2="638.60" y2="225.90" stroke="#000000" stroke-width="2"/>
<text x="643.90" y="234.90" fill="#000000" font-size="32" text-anchor="start">1</text>
<line x1="634.00" y1="173.10" x2="638.60" y2="173.10" stroke="#000000" stroke-width="2"/>
<line x1="632.00" y1="120.30" x2="638.60" y2="120.30" stroke="#000000" stroke-width="2"/>
<text x="643.90" y="129.30" fill="#000000" font-size="32" text-anchor="start">2</text>
<line x1="634.00" y1="67.50" x2="638.60" y2="67.50" stroke="#000000" stroke-width="2"/>
<line x1="632.00" y1="14.70" x2="638.60" y2="14.70" stroke="#000000" stroke-width="2"/>
<text x="643.90" y="23.70" fill="#000000" font-size="32" text-anchor="start">3</text>
<text transform="translate(695.10,176.75) rotate(-90) scale(0.979,1)" fill="#000000" font-size="25.5" text-anchor="middle">Cell Density (OD<tspan font-size="15" dy="9.5">600</tspan><tspan dy="-9.5">)</tspan></text>
<rect x="818.80" y="78.16" width="59.70" height="253.44" fill="#94ff3c" stroke="#1a1a1a" stroke-width="1.3"/>
<rect x="904.60" y="274.70" width="59.70" height="56.90" fill="#94ff3c" stroke="#1a1a1a" stroke-width="1.3"/>
<line x1="848.80" y1="65.36" x2="848.80" y2="90.96" stroke="#000000" stroke-width="3.4"/>
<line x1="845.20" y1="65.36" x2="852.40" y2="65.36" stroke="#000000" stroke-width="3.6" stroke-linecap="round"/>
<line x1="845.20" y1="90.96" x2="852.40" y2="90.96" stroke="#000000" stroke-width="3.6" stroke-linecap="round"/>
<line x1="934.50" y1="255.50" x2="934.50" y2="293.90" stroke="#000000" stroke-width="3.4"/>
<line x1="930.90" y1="255.50" x2="938.10" y2="255.50" stroke="#000000" stroke-width="3.6" stroke-linecap="round"/>
<line x1="930.90" y1="293.90" x2="938.10" y2="293.90" stroke="#000000" stroke-width="3.6" stroke-linecap="round"/>
<line x1="805.90" y1="13.80" x2="805.90" y2="332.60" stroke="#000000" stroke-width="2"/>
<line x1="800.00" y1="331.60" x2="976.00" y2="331.60" stroke="#000000" stroke-width="2"/>
<line x1="799.90" y1="331.60" x2="805.90" y2="331.60" stroke="#000000" stroke-width="2"/>
<text x="795.10" y="340.90" fill="#000000" font-size="32" text-anchor="end">3</text>
<line x1="802.50" y1="299.92" x2="805.90" y2="299.92" stroke="#000000" stroke-width="2"/>
<line x1="799.90" y1="268.24" x2="805.90" y2="268.24" stroke="#000000" stroke-width="2"/>
<text x="795.10" y="277.54" fill="#000000" font-size="32" text-anchor="end">4</text>
<line x1="802.50" y1="236.56" x2="805.90" y2="236.56" stroke="#000000" stroke-width="2"/>
<line x1="799.90" y1="204.88" x2="805.90" y2="204.88" stroke="#000000" stroke-width="2"/>
<text x="795.10" y="214.18" fill="#000000" font-size="32" text-anchor="end">5</text>
<line x1="802.50" y1="173.20" x2="805.90" y2="173.20" stroke="#000000" stroke-width="2"/>
<line x1="799.90" y1="141.52" x2="805.90" y2="141.52" stroke="#000000" stroke-width="2"/>
<text x="795.10" y="150.82" fill="#000000" font-size="32" text-anchor="end">6</text>
<line x1="802.50" y1="109.84" x2="805.90" y2="109.84" stroke="#000000" stroke-width="2"/>
<line x1="799.90" y1="78.16" x2="805.90" y2="78.16" stroke="#000000" stroke-width="2"/>
<text x="795.10" y="87.46" fill="#000000" font-size="32" text-anchor="end">7</text>
<line x1="802.50" y1="46.48" x2="805.90" y2="46.48" stroke="#000000" stroke-width="2"/>
<line x1="799.90" y1="14.80" x2="805.90" y2="14.80" stroke="#000000" stroke-width="2"/>
<text x="795.10" y="24.10" fill="#000000" font-size="32" text-anchor="end">8</text>
<text transform="translate(758.80,172.60) rotate(-90)" fill="#000000" font-size="34" text-anchor="middle" textLength="42" lengthAdjust="spacingAndGlyphs">pH</text>
<text x="824.6 840 849.0" y="361.60" fill="#000" font-size="31.5">0 h</text>
<text x="904.8 920.55 936 946.3" y="361.60" fill="#000" font-size="31.5">72 h</text>
</g>
<g transform="translate(0,836)">
<g clip-path="url(#c0)">
<line x1="98.41" y1="84.55" x2="152.06" y2="127.25" stroke="#d80000" stroke-width="3.7" stroke-linecap="round"/>
<line x1="165.90" y1="143.77" x2="226.30" y2="255.33" stroke="#d80000" stroke-width="3.7" stroke-linecap="round"/>
<line x1="239.55" y1="272.53" x2="294.38" y2="323.97" stroke="#d80000" stroke-width="3.7" stroke-linecap="round"/>
<line x1="313.40" y1="331.50" x2="362.27" y2="331.50" stroke="#d80000" stroke-width="3.7" stroke-linecap="round"/>
<line x1="384.27" y1="331.50" x2="433.13" y2="331.50" stroke="#d80000" stroke-width="3.7" stroke-linecap="round"/>
<line x1="455.13" y1="331.50" x2="504.00" y2="331.50" stroke="#d80000" stroke-width="3.7" stroke-linecap="round"/>
<line x1="89.80" y1="62.40" x2="89.80" y2="69.00" stroke="#d80000" stroke-width="2"/>
<line x1="89.80" y1="86.40" x2="89.80" y2="93.00" stroke="#d80000" stroke-width="2"/>
<line x1="85.80" y1="62.40" x2="93.80" y2="62.40" stroke="#d80000" stroke-width="2"/>
<line x1="85.80" y1="93.00" x2="93.80" y2="93.00" stroke="#d80000" stroke-width="2"/>
<line x1="160.67" y1="123.50" x2="160.67" y2="125.40" stroke="#d80000" stroke-width="2"/>
<line x1="160.67" y1="142.80" x2="160.67" y2="144.70" stroke="#d80000" stroke-width="2"/>
<line x1="156.67" y1="123.50" x2="164.67" y2="123.50" stroke="#d80000" stroke-width="2"/>
<line x1="156.67" y1="144.70" x2="164.67" y2="144.70" stroke="#d80000" stroke-width="2"/>
<line x1="231.53" y1="226.40" x2="231.53" y2="256.30" stroke="#d80000" stroke-width="2"/>
<line x1="231.53" y1="273.70" x2="231.53" y2="303.60" stroke="#d80000" stroke-width="2"/>
<line x1="227.53" y1="226.40" x2="235.53" y2="226.40" stroke="#d80000" stroke-width="2"/>
<line x1="227.53" y1="303.60" x2="235.53" y2="303.60" stroke="#d80000" stroke-width="2"/>
<polygon points="80.97,72.60 98.63,72.60 89.80,87.90" fill="#d80000"/>
<polygon points="151.83,129.00 169.50,129.00 160.67,144.30" fill="#d80000"/>
<polygon points="222.70,259.90 240.37,259.90 231.53,275.20" fill="#d80000"/>
<polygon points="293.57,326.40 311.23,326.40 302.40,341.70" fill="#d80000"/>
<polygon points="364.43,326.40 382.10,326.40 373.27,341.70" fill="#d80000"/>
<polygon points="435.30,326.40 452.97,326.40 444.13,341.70" fill="#d80000"/>
<polygon points="506.17,326.40 523.83,326.40 515.00,341.70" fill="#d80000"/>
<line x1="99.80" y1="327.20" x2="150.66" y2="307.90" stroke="#0000ff" stroke-width="3.4" stroke-linecap="round"/>
<line x1="169.56" y1="298.15" x2="222.64" y2="262.65" stroke="#0000ff" stroke-width="3.4" stroke-linecap="round"/>
<line x1="242.17" y1="255.54" x2="291.76" y2="250.16" stroke="#0000ff" stroke-width="3.4" stroke-linecap="round"/>
<line x1="313.08" y1="249.68" x2="362.59" y2="252.82" stroke="#0000ff" stroke-width="3.4" stroke-linecap="round"/>
<line x1="383.87" y1="252.05" x2="433.53" y2="245.25" stroke="#0000ff" stroke-width="3.4" stroke-linecap="round"/>
<line x1="454.80" y1="244.70" x2="504.34" y2="248.90" stroke="#0000ff" stroke-width="3.4" stroke-linecap="round"/>
<line x1="160.67" y1="294.70" x2="160.67" y2="313.50" stroke="#0000ff" stroke-width="2"/>
<line x1="156.67" y1="294.70" x2="164.67" y2="294.70" stroke="#0000ff" stroke-width="2"/>
<line x1="156.67" y1="313.50" x2="164.67" y2="313.50" stroke="#0000ff" stroke-width="2"/>
<line x1="231.53" y1="236.40" x2="231.53" y2="277.00" stroke="#0000ff" stroke-width="2"/>
<line x1="227.53" y1="236.40" x2="235.53" y2="236.40" stroke="#0000ff" stroke-width="2"/>
<line x1="227.53" y1="277.00" x2="235.53" y2="277.00" stroke="#0000ff" stroke-width="2"/>
<line x1="302.40" y1="231.60" x2="302.40" y2="266.40" stroke="#0000ff" stroke-width="2"/>
<line x1="298.40" y1="231.60" x2="306.40" y2="231.60" stroke="#0000ff" stroke-width="2"/>
<line x1="298.40" y1="266.40" x2="306.40" y2="266.40" stroke="#0000ff" stroke-width="2"/>
<line x1="373.27" y1="221.70" x2="373.27" y2="285.30" stroke="#0000ff" stroke-width="2"/>
<line x1="369.27" y1="221.70" x2="377.27" y2="221.70" stroke="#0000ff" stroke-width="2"/>
<line x1="369.27" y1="285.30" x2="377.27" y2="285.30" stroke="#0000ff" stroke-width="2"/>
<line x1="444.13" y1="229.70" x2="444.13" y2="257.90" stroke="#0000ff" stroke-width="2"/>
<line x1="440.13" y1="229.70" x2="448.13" y2="229.70" stroke="#0000ff" stroke-width="2"/>
<line x1="440.13" y1="257.90" x2="448.13" y2="257.90" stroke="#0000ff" stroke-width="2"/>
<line x1="515.00" y1="233.80" x2="515.00" y2="265.80" stroke="#0000ff" stroke-width="2"/>
<line x1="511.00" y1="233.80" x2="519.00" y2="233.80" stroke="#0000ff" stroke-width="2"/>
<line x1="511.00" y1="265.80" x2="519.00" y2="265.80" stroke="#0000ff" stroke-width="2"/>
<rect x="83.60" y="324.80" width="12.4" height="12.4" fill="#0000ff"/>
<rect x="154.47" y="297.90" width="12.4" height="12.4" fill="#0000ff"/>
<rect x="225.33" y="250.50" width="12.4" height="12.4" fill="#0000ff"/>
<rect x="296.20" y="242.80" width="12.4" height="12.4" fill="#0000ff"/>
<rect x="367.07" y="247.30" width="12.4" height="12.4" fill="#0000ff"/>
<rect x="437.93" y="237.60" width="12.4" height="12.4" fill="#0000ff"/>
<rect x="508.80" y="243.60" width="12.4" height="12.4" fill="#0000ff"/>
<line x1="102.20" y1="313.94" x2="115.70" y2="302.34" stroke="#000000" stroke-width="3.9" stroke-linecap="round"/>
<line x1="138.00" y1="283.18" x2="151.26" y2="271.78" stroke="#000000" stroke-width="3.9" stroke-linecap="round"/>
<line x1="173.45" y1="250.57" x2="186.59" y2="237.07" stroke="#000000" stroke-width="3.9" stroke-linecap="round"/>
<line x1="208.30" y1="214.77" x2="221.44" y2="201.27" stroke="#000000" stroke-width="3.9" stroke-linecap="round"/>
<line x1="243.47" y1="185.48" x2="256.97" y2="179.34" stroke="#000000" stroke-width="3.9" stroke-linecap="round"/>
<line x1="279.27" y1="169.21" x2="291.11" y2="163.83" stroke="#000000" stroke-width="3.9" stroke-linecap="round"/>
<line x1="315.07" y1="149.33" x2="328.57" y2="139.35" stroke="#000000" stroke-width="3.9" stroke-linecap="round"/>
<line x1="350.87" y1="122.86" x2="363.30" y2="113.67" stroke="#000000" stroke-width="3.9" stroke-linecap="round"/>
<line x1="386.67" y1="105.62" x2="400.17" y2="104.93" stroke="#000000" stroke-width="3.9" stroke-linecap="round"/>
<line x1="422.47" y1="103.80" x2="431.75" y2="103.33" stroke="#000000" stroke-width="3.9" stroke-linecap="round"/>
<line x1="458.27" y1="98.57" x2="471.77" y2="94.63" stroke="#000000" stroke-width="3.9" stroke-linecap="round"/>
<line x1="494.07" y1="88.11" x2="503.10" y2="85.48" stroke="#000000" stroke-width="3.9" stroke-linecap="round"/>
<line x1="160.67" y1="249.70" x2="160.67" y2="277.70" stroke="#000000" stroke-width="2"/>
<line x1="156.67" y1="249.70" x2="164.67" y2="249.70" stroke="#000000" stroke-width="2"/>
<line x1="156.67" y1="277.70" x2="164.67" y2="277.70" stroke="#000000" stroke-width="2"/>
<line x1="231.53" y1="162.40" x2="231.53" y2="219.40" stroke="#000000" stroke-width="2"/>
<line x1="227.53" y1="162.40" x2="235.53" y2="162.40" stroke="#000000" stroke-width="2"/>
<line x1="227.53" y1="219.40" x2="235.53" y2="219.40" stroke="#000000" stroke-width="2"/>
<line x1="302.40" y1="127.10" x2="302.40" y2="190.30" stroke="#000000" stroke-width="2"/>
<line x1="298.40" y1="127.10" x2="306.40" y2="127.10" stroke="#000000" stroke-width="2"/>
<line x1="298.40" y1="190.30" x2="306.40" y2="190.30" stroke="#000000" stroke-width="2"/>
<line x1="373.27" y1="73.80" x2="373.27" y2="138.80" stroke="#000000" stroke-width="2"/>
<line x1="369.27" y1="73.80" x2="377.27" y2="73.80" stroke="#000000" stroke-width="2"/>
<line x1="369.27" y1="138.80" x2="377.27" y2="138.80" stroke="#000000" stroke-width="2"/>
<line x1="444.13" y1="85.50" x2="444.13" y2="119.90" stroke="#000000" stroke-width="2"/>
<line x1="440.13" y1="85.50" x2="448.13" y2="85.50" stroke="#000000" stroke-width="2"/>
<line x1="440.13" y1="119.90" x2="448.13" y2="119.90" stroke="#000000" stroke-width="2"/>
<line x1="515.00" y1="65.80" x2="515.00" y2="98.20" stroke="#000000" stroke-width="2"/>
<line x1="511.00" y1="65.80" x2="519.00" y2="65.80" stroke="#000000" stroke-width="2"/>
<line x1="511.00" y1="98.20" x2="519.00" y2="98.20" stroke="#000000" stroke-width="2"/>
<circle cx="89.80" cy="324.60" r="6.3" fill="#fff" stroke="#000" stroke-width="1.5"/>
<circle cx="160.67" cy="263.70" r="6.3" fill="#fff" stroke="#000" stroke-width="1.5"/>
<circle cx="231.53" cy="190.90" r="6.3" fill="#fff" stroke="#000" stroke-width="1.5"/>
<circle cx="302.40" cy="158.70" r="6.3" fill="#fff" stroke="#000" stroke-width="1.5"/>
<circle cx="373.27" cy="106.30" r="6.3" fill="#fff" stroke="#000" stroke-width="1.5"/>
<circle cx="444.13" cy="102.70" r="6.3" fill="#fff" stroke="#000" stroke-width="1.5"/>
<circle cx="515.00" cy="82.00" r="6.3" fill="#fff" stroke="#000" stroke-width="1.5"/>
</g>
<line x1="89.80" y1="14.70" x2="515.00" y2="14.70" stroke="#000000" stroke-width="2"/>
<line x1="89.80" y1="331.50" x2="515.00" y2="331.50" stroke="#000000" stroke-width="2"/>
<line x1="89.80" y1="13.70" x2="89.80" y2="332.50" stroke="#d80000" stroke-width="2"/>
<line x1="515.00" y1="13.70" x2="515.00" y2="332.50" stroke="#0000ff" stroke-width="2"/>
<line x1="90.00" y1="317.30" x2="90.00" y2="331.50" stroke="#000000" stroke-width="2"/>
<line x1="83.30" y1="331.50" x2="89.80" y2="331.50" stroke="#d80000" stroke-width="2"/>
<text x="78.40" y="340.80" fill="#d80000" font-size="32" text-anchor="end">0</text>
<line x1="86.10" y1="299.82" x2="89.80" y2="299.82" stroke="#d80000" stroke-width="2"/>
<line x1="83.30" y1="268.14" x2="89.80" y2="268.14" stroke="#d80000" stroke-width="2"/>
<text x="78.40" y="277.44" fill="#d80000" font-size="32" text-anchor="end">1</text>
<line x1="86.10" y1="236.46" x2="89.80" y2="236.46" stroke="#d80000" stroke-width="2"/>
<line x1="83.30" y1="204.78" x2="89.80" y2="204.78" stroke="#d80000" stroke-width="2"/>
<text x="78.40" y="214.08" fill="#d80000" font-size="32" text-anchor="end">2</text>
<line x1="86.10" y1="173.10" x2="89.80" y2="173.10" stroke="#d80000" stroke-width="2"/>
<line x1="83.30" y1="141.42" x2="89.80" y2="141.42" stroke="#d80000" stroke-width="2"/>
<text x="78.40" y="150.72" fill="#d80000" font-size="32" text-anchor="end">3</text>
<line x1="86.10" y1="109.74" x2="89.80" y2="109.74" stroke="#d80000" stroke-width="2"/>
<line x1="83.30" y1="78.06" x2="89.80" y2="78.06" stroke="#d80000" stroke-width="2"/>
<text x="78.40" y="87.36" fill="#d80000" font-size="32" text-anchor="end">4</text>
<line x1="86.10" y1="46.38" x2="89.80" y2="46.38" stroke="#d80000" stroke-width="2"/>
<line x1="83.30" y1="14.70" x2="89.80" y2="14.70" stroke="#d80000" stroke-width="2"/>
<text x="78.40" y="24.00" fill="#d80000" font-size="32" text-anchor="end">5</text>
<line x1="508.50" y1="331.50" x2="515.00" y2="331.50" stroke="#0000ff" stroke-width="2"/>
<text x="520.70" y="340.80" fill="#0000ff" font-size="32" text-anchor="start" letter-spacing="1.1">0.0</text>
<line x1="511.00" y1="291.90" x2="515.00" y2="291.90" stroke="#0000ff" stroke-width="2"/>
<line x1="508.50" y1="252.30" x2="515.00" y2="252.30" stroke="#0000ff" stroke-width="2"/>
<text x="520.70" y="261.60" fill="#0000ff" font-size="32" text-anchor="start" letter-spacing="1.1">0.5</text>
<line x1="511.00" y1="212.70" x2="515.00" y2="212.70" stroke="#0000ff" stroke-width="2"/>
<line x1="508.50" y1="173.10" x2="515.00" y2="173.10" stroke="#0000ff" stroke-width="2"/>
<text x="520.70" y="182.40" fill="#0000ff" font-size="32" text-anchor="start" letter-spacing="1.1">1.0</text>
<line x1="511.00" y1="133.50" x2="515.00" y2="133.50" stroke="#0000ff" stroke-width="2"/>
<line x1="508.50" y1="93.90" x2="515.00" y2="93.90" stroke="#0000ff" stroke-width="2"/>
<text x="520.70" y="103.20" fill="#0000ff" font-size="32" text-anchor="start" letter-spacing="1.1">1.5</text>
<line x1="511.00" y1="54.30" x2="515.00" y2="54.30" stroke="#0000ff" stroke-width="2"/>
<line x1="508.50" y1="14.70" x2="515.00" y2="14.70" stroke="#0000ff" stroke-width="2"/>
<text x="520.70" y="24.00" fill="#0000ff" font-size="32" text-anchor="start" letter-spacing="1.1">2.0</text>
<line x1="89.80" y1="331.50" x2="89.80" y2="338.50" stroke="#000000" stroke-width="2"/>
<text x="88.80" y="366.70" fill="#000000" font-size="32" text-anchor="middle">0</text>
<line x1="125.23" y1="331.50" x2="125.23" y2="335.50" stroke="#000000" stroke-width="2"/>
<line x1="160.67" y1="331.50" x2="160.67" y2="338.50" stroke="#000000" stroke-width="2"/>
<text x="159.67" y="366.70" fill="#000000" font-size="32" text-anchor="middle">12</text>
<line x1="196.10" y1="331.50" x2="196.10" y2="335.50" stroke="#000000" stroke-width="2"/>
<line x1="231.53" y1="331.50" x2="231.53" y2="338.50" stroke="#000000" stroke-width="2"/>
<text x="230.53" y="366.70" fill="#000000" font-size="32" text-anchor="middle">24</text>
<line x1="266.97" y1="331.50" x2="266.97" y2="335.50" stroke="#000000" stroke-width="2"/>
<line x1="302.40" y1="331.50" x2="302.40" y2="338.50" stroke="#000000" stroke-width="2"/>
<text x="301.40" y="366.70" fill="#000000" font-size="32" text-anchor="middle">36</text>
<line x1="337.83" y1="331.50" x2="337.83" y2="335.50" stroke="#000000" stroke-width="2"/>
<line x1="373.27" y1="331.50" x2="373.27" y2="338.50" stroke="#000000" stroke-width="2"/>
<text x="372.27" y="366.70" fill="#000000" font-size="32" text-anchor="middle">48</text>
<line x1="408.70" y1="331.50" x2="408.70" y2="335.50" stroke="#000000" stroke-width="2"/>
<line x1="444.13" y1="331.50" x2="444.13" y2="338.50" stroke="#000000" stroke-width="2"/>
<text x="443.13" y="366.70" fill="#000000" font-size="32" text-anchor="middle">60</text>
<line x1="479.57" y1="331.50" x2="479.57" y2="335.50" stroke="#000000" stroke-width="2"/>
<line x1="515.00" y1="331.50" x2="515.00" y2="338.50" stroke="#000000" stroke-width="2"/>
<text x="514.00" y="366.70" fill="#000000" font-size="32" text-anchor="middle">72</text>
<text x="242.5 264.5 273.5 300.9 315.1 322.6 332.9 352.9" y="401.10" fill="#000" font-size="32">Time (h)</text>
<text transform="translate(44,180.5) rotate(-90)" fill="#d80000" font-size="25" text-anchor="middle" textLength="177" lengthAdjust="spacingAndGlyphs">D-Fructose (g/L)</text>
<text transform="translate(595.5,180.6) rotate(-90)" fill="#0000ff" font-size="25" text-anchor="middle" textLength="169" lengthAdjust="spacingAndGlyphs">D-Allulose (g/L)</text>
<line x1="638.60" y1="13.70" x2="638.60" y2="332.50" stroke="#000000" stroke-width="2"/>
<line x1="632.00" y1="331.50" x2="638.60" y2="331.50" stroke="#000000" stroke-width="2"/>
<text x="643.90" y="340.50" fill="#000000" font-size="32" text-anchor="start">0</text>
<line x1="634.00" y1="278.70" x2="638.60" y2="278.70" stroke="#000000" stroke-width="2"/>
<line x1="632.00" y1="225.90" x2="638.60" y2="225.90" stroke="#000000" stroke-width="2"/>
<text x="643.90" y="234.90" fill="#000000" font-size="32" text-anchor="start">1</text>
<line x1="634.00" y1="173.10" x2="638.60" y2="173.10" stroke="#000000" stroke-width="2"/>
<line x1="632.00" y1="120.30" x2="638.60" y2="120.30" stroke="#000000" stroke-width="2"/>
<text x="643.90" y="129.30" fill="#000000" font-size="32" text-anchor="start">2</text>
<line x1="634.00" y1="67.50" x2="638.60" y2="67.50" stroke="#000000" stroke-width="2"/>
<line x1="632.00" y1="14.70" x2="638.60" y2="14.70" stroke="#000000" stroke-width="2"/>
<text x="643.90" y="23.70" fill="#000000" font-size="32" text-anchor="start">3</text>
<text transform="translate(694.80,176.75) rotate(-90) scale(0.979,1)" fill="#000000" font-size="25.5" text-anchor="middle">Cell Density (OD<tspan font-size="15" dy="9.5">600</tspan><tspan dy="-9.5">)</tspan></text>
<rect x="819.70" y="79.38" width="59.90" height="254.32" fill="#94ff3c" stroke="#1a1a1a" stroke-width="1.3"/>
<rect x="904.30" y="161.60" width="60.20" height="172.10" fill="#94ff3c" stroke="#1a1a1a" stroke-width="1.3"/>
<line x1="849.70" y1="71.79" x2="849.70" y2="84.41" stroke="#000000" stroke-width="3.4"/>
<line x1="846.10" y1="71.79" x2="853.30" y2="71.79" stroke="#000000" stroke-width="3.6" stroke-linecap="round"/>
<line x1="846.10" y1="84.41" x2="853.30" y2="84.41" stroke="#000000" stroke-width="3.6" stroke-linecap="round"/>
<line x1="934.50" y1="141.27" x2="934.50" y2="182.19" stroke="#000000" stroke-width="3.4"/>
<line x1="930.90" y1="141.27" x2="938.10" y2="141.27" stroke="#000000" stroke-width="3.6" stroke-linecap="round"/>
<line x1="930.90" y1="182.19" x2="938.10" y2="182.19" stroke="#000000" stroke-width="3.6" stroke-linecap="round"/>
<line x1="806.95" y1="14.00" x2="806.95" y2="334.70" stroke="#000000" stroke-width="2"/>
<line x1="801.05" y1="333.70" x2="976.00" y2="333.70" stroke="#000000" stroke-width="2"/>
<line x1="800.95" y1="333.70" x2="806.95" y2="333.70" stroke="#000000" stroke-width="2"/>
<text x="796.15" y="343.00" fill="#000000" font-size="32" text-anchor="end">3</text>
<line x1="803.55" y1="301.83" x2="806.95" y2="301.83" stroke="#000000" stroke-width="2"/>
<line x1="800.95" y1="269.96" x2="806.95" y2="269.96" stroke="#000000" stroke-width="2"/>
<text x="796.15" y="279.26" fill="#000000" font-size="32" text-anchor="end">4</text>
<line x1="803.55" y1="238.09" x2="806.95" y2="238.09" stroke="#000000" stroke-width="2"/>
<line x1="800.95" y1="206.22" x2="806.95" y2="206.22" stroke="#000000" stroke-width="2"/>
<text x="796.15" y="215.52" fill="#000000" font-size="32" text-anchor="end">5</text>
<line x1="803.55" y1="174.35" x2="806.95" y2="174.35" stroke="#000000" stroke-width="2"/>
<line x1="800.95" y1="142.48" x2="806.95" y2="142.48" stroke="#000000" stroke-width="2"/>
<text x="796.15" y="151.78" fill="#000000" font-size="32" text-anchor="end">6</text>
<line x1="803.55" y1="110.61" x2="806.95" y2="110.61" stroke="#000000" stroke-width="2"/>
<line x1="800.95" y1="78.74" x2="806.95" y2="78.74" stroke="#000000" stroke-width="2"/>
<text x="796.15" y="88.04" fill="#000000" font-size="32" text-anchor="end">7</text>
<line x1="803.55" y1="46.87" x2="806.95" y2="46.87" stroke="#000000" stroke-width="2"/>
<line x1="800.95" y1="15.00" x2="806.95" y2="15.00" stroke="#000000" stroke-width="2"/>
<text x="796.15" y="24.30" fill="#000000" font-size="32" text-anchor="end">8</text>
<text transform="translate(760.00,173.40) rotate(-90)" fill="#000000" font-size="34" text-anchor="middle" textLength="42" lengthAdjust="spacingAndGlyphs">pH</text>
<text x="824.6 840 849.0" y="363.70" fill="#000" font-size="31.5">0 h</text>
<text x="904.8 920.55 936 946.3" y="363.70" fill="#000" font-size="31.5">72 h</text>
</g>
</g>
</svg>
</body></html>
